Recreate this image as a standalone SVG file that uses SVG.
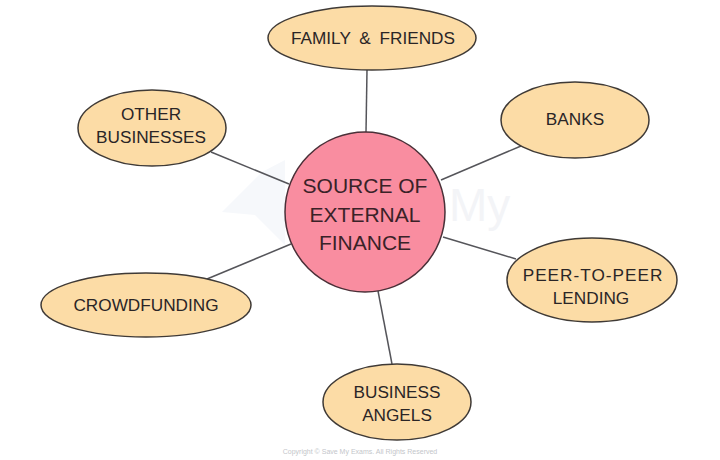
<svg xmlns="http://www.w3.org/2000/svg" width="720" height="460" viewBox="0 0 720 460">
<style>
.n{fill:#fcdca6;stroke:#3f3a36;stroke-width:1.5}
.c{fill:#f98da0;stroke:#4a3038;stroke-width:1.5}
.t{font-family:"Liberation Sans",Arial,sans-serif;font-size:17.2px;fill:#2a2526;text-anchor:middle}
.b{font-size:21px;fill:#3a2228}
#connectors line{stroke:#55555a;stroke-width:1.5}
</style>
<rect width="720" height="460" fill="#fff"/>
<g id="watermark"><path d="M222 212 L262 172 L285 160 L285 245 L255 215 Z" fill="#f6f8fb"/><text x="449" y="221" font-family="'Liberation Sans',Arial,sans-serif" font-size="46" fill="#f3f4f7">My</text></g>
<g id="connectors">
<line x1="367" y1="70" x2="366" y2="132"/>
<line x1="521" y1="146" x2="441" y2="180"/>
<line x1="211" y1="152" x2="289" y2="184"/>
<line x1="207" y1="279" x2="291" y2="244"/>
<line x1="516" y1="259" x2="443" y2="237"/>
<line x1="392" y1="364" x2="378" y2="291"/>
</g>
<g id="family"><ellipse class="n" cx="372" cy="38" rx="104" ry="32"/><text class="t" x="373" y="44" word-spacing="4">FAMILY &amp; FRIENDS</text></g>
<g id="banks"><ellipse class="n" cx="575" cy="120" rx="74" ry="38"/><text class="t" x="575" y="125">BANKS</text></g>
<g id="other"><ellipse class="n" cx="152" cy="128" rx="74" ry="38"/><text class="t" x="151" y="120">OTHER</text><text class="t" x="151" y="143">BUSINESSES</text></g>
<g id="crowd"><ellipse class="n" cx="146" cy="305" rx="105" ry="32"/><text class="t" x="146" y="311">CROWDFUNDING</text></g>
<g id="p2p"><ellipse class="n" cx="592" cy="280" rx="85" ry="42"/><text class="t" x="593" y="281" letter-spacing="1">PEER-TO-PEER</text><text class="t" x="591" y="304">LENDING</text></g>
<g id="angels"><ellipse class="n" cx="397" cy="402" rx="74" ry="38"/><text class="t" x="397" y="398">BUSINESS</text><text class="t" x="397" y="421">ANGELS</text></g>
<g id="centre"><circle class="c" cx="365" cy="212" r="80"/><text class="t b" x="365" y="193">SOURCE OF</text><text class="t b" x="365" y="222">EXTERNAL</text><text class="t b" x="365" y="250">FINANCE</text></g>
<text x="360" y="454" font-family="'Liberation Sans',Arial,sans-serif" font-size="7" fill="#c4c6ca" text-anchor="middle">Copyright © Save My Exams. All Rights Reserved</text>
</svg>
